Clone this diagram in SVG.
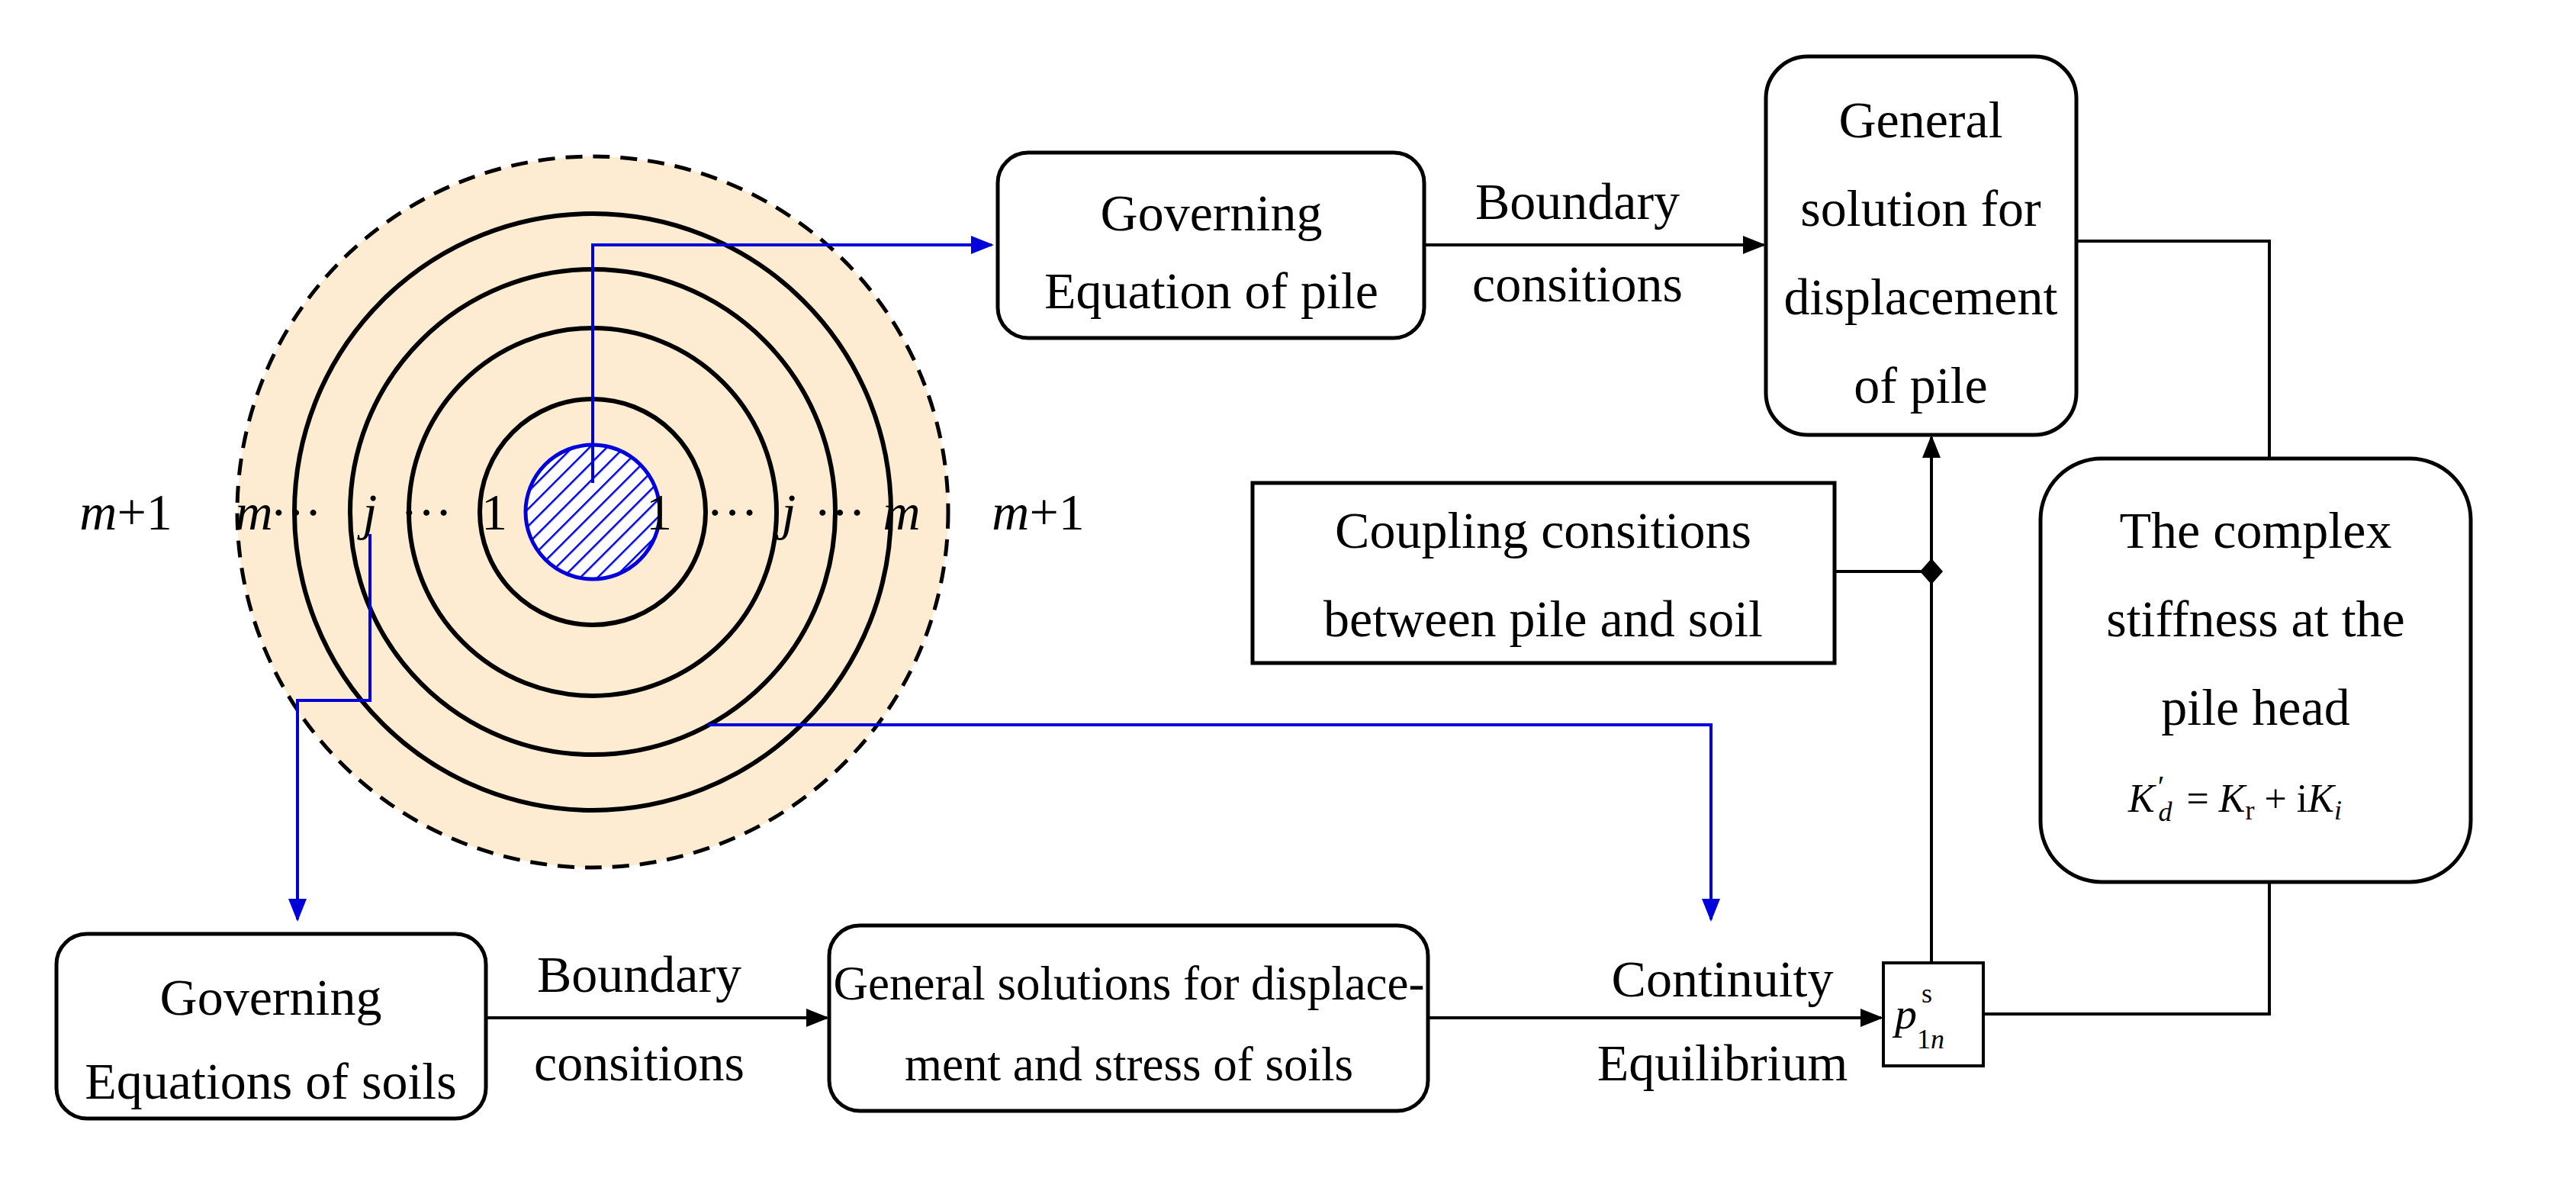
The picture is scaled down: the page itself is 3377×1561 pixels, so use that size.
<svg xmlns="http://www.w3.org/2000/svg" width="3377" height="1561" viewBox="0 0 3377 1561">
<style>
text{font-family:"Liberation Serif",serif;font-size:68px;fill:#000;text-anchor:middle}
.it{font-style:italic}
.st{text-anchor:start}
.box{fill:#fff;stroke:#000;stroke-width:5}
.k{fill:none;stroke:#000;stroke-width:4}
.b{fill:none;stroke:#0000dd;stroke-width:4}
.ring{fill:none;stroke:#000;stroke-width:6}
</style>
<defs>
<marker id="ab" viewBox="0 0 10 8" refX="9" refY="4" markerWidth="30" markerHeight="24" orient="auto" markerUnits="userSpaceOnUse"><path d="M0,0L10,4L0,8z" fill="#0000dd"/></marker>
<marker id="akb" viewBox="0 0 10 8" refX="9" refY="4" markerWidth="30" markerHeight="24" orient="auto" markerUnits="userSpaceOnUse"><path d="M0,0L10,4L0,8z" fill="#000"/></marker>
<pattern id="hatch" width="16" height="16" patternUnits="userSpaceOnUse" patternTransform="rotate(45)"><rect width="16" height="16" fill="#fff"/><line x1="0" y1="0" x2="0" y2="16" stroke="#0000dd" stroke-width="5"/></pattern>
</defs>
<g id="soil">
<circle cx="777" cy="671" r="466" fill="#fdebd2" stroke="#000" stroke-width="5" stroke-dasharray="22,14"/>
<circle class="ring" cx="777" cy="671" r="391"/>
<circle class="ring" cx="777" cy="671" r="318"/>
<circle class="ring" cx="777" cy="671" r="241"/>
<circle class="ring" cx="777" cy="671" r="148"/>
<circle cx="777" cy="671" r="88" fill="url(#hatch)" stroke="#0000dd" stroke-width="5"/>
<g>
<text x="165" y="694" class="it">m<tspan font-style="normal">+1</tspan></text>
<text x="333" y="694" class="it">m</text>
<text x="388" y="694">···</text>
<text x="485" y="694" class="it">j</text>
<text x="559" y="694">···</text>
<text x="648" y="694">1</text>
<text x="864" y="694">1</text>
<text x="960" y="694">···</text>
<text x="1034" y="694" class="it">j</text>
<text x="1101" y="694">···</text>
<text x="1182" y="694" class="it">m</text>
<text x="1361" y="694" class="it">m<tspan font-style="normal">+1</tspan></text>
</g>
</g>
<g id="connectors">
<polyline class="b" points="777,633 777,321 1300,321" marker-end="url(#ab)"/>
<polyline class="b" points="485,700 485,918 390,918 390,1205" marker-end="url(#ab)"/>
<polyline class="b" points="928,950 2243,950 2243,1205" marker-end="url(#ab)"/>
<line class="k" x1="1867" y1="321" x2="2312" y2="321" marker-end="url(#akb)"/>
<polyline class="k" points="2722,316 2975,316 2975,601"/>
<polyline class="k" points="2975,1156 2975,1329 2600,1329"/>
<line class="k" x1="2532" y1="1262" x2="2532" y2="573" marker-end="url(#akb)"/>
<line class="k" x1="2405" y1="749" x2="2532" y2="749"/>
<path d="M2532,732L2547,749L2532,766L2517,749z" fill="#000"/>
<line class="k" x1="637" y1="1334" x2="1084" y2="1334" marker-end="url(#akb)"/>
<line class="k" x1="1872" y1="1334" x2="2466" y2="1334" marker-end="url(#akb)"/>
<text x="2068" y="287">Boundary</text>
<text x="2068" y="395">consitions</text>
<text x="838" y="1300">Boundary</text>
<text x="838" y="1416">consitions</text>
<text x="2258" y="1306">Continuity</text>
<text x="2258" y="1416">Equilibrium</text>
</g>
<g id="gov-pile">
<rect class="box" x="1308" y="200" width="559" height="243" rx="40"/>
<text x="1588" y="302">Governing</text>
<text x="1588" y="404">Equation of pile</text>
</g>
<g id="gen-pile">
<rect class="box" x="2315" y="74" width="407" height="496" rx="55"/>
<text x="2518" y="180">General</text>
<text x="2518" y="296">solution for</text>
<text x="2518" y="412">displacement</text>
<text x="2518" y="528">of pile</text>
</g>
<g id="stiffness">
<rect class="box" x="2675" y="601" width="564" height="555" rx="80"/>
<text x="2957" y="718">The complex</text>
<text x="2957" y="834">stiffness at the</text>
<text x="2957" y="950">pile head</text>
<text x="2790" y="1064" class="st" style="font-size:52px"><tspan font-style="italic">K</tspan><tspan font-size="40" dx="4" dy="-20">′</tspan><tspan font-size="36" dy="32" dx="-8" font-style="italic">d</tspan><tspan dy="-12" dx="6"> = </tspan><tspan font-style="italic">K</tspan><tspan font-size="36" dy="10">r</tspan><tspan dy="-10"> + i</tspan><tspan font-style="italic">K</tspan><tspan font-size="36" dy="10" font-style="italic">i</tspan></text>
</g>
<g id="coupling">
<rect class="box" x="1642" y="633" width="763" height="236"/>
<text x="2023" y="718">Coupling consitions</text>
<text x="2023" y="834">between pile and soil</text>
</g>
<g id="gov-soil">
<rect class="box" x="74" y="1224" width="563" height="242" rx="40"/>
<text x="355" y="1330">Governing</text>
<text x="355" y="1440">Equations of soils</text>
</g>
<g id="gen-soil">
<rect class="box" x="1087" y="1213" width="785" height="243" rx="40"/>
<text x="1480" y="1310" style="font-size:63px">General solutions for displace-</text>
<text x="1480" y="1416" style="font-size:63px">ment and stress of soils</text>
</g>
<g id="p-box">
<rect x="2469" y="1262" width="131" height="135" fill="#fff" stroke="#000" stroke-width="4"/>
<text x="2484" y="1348" class="st" style="font-size:58px"><tspan font-style="italic">p</tspan><tspan font-size="36" dx="6" dy="-34">s</tspan><tspan font-size="36" dx="-20" dy="60">1</tspan><tspan font-size="36" font-style="italic">n</tspan></text>
</g>
</svg>
